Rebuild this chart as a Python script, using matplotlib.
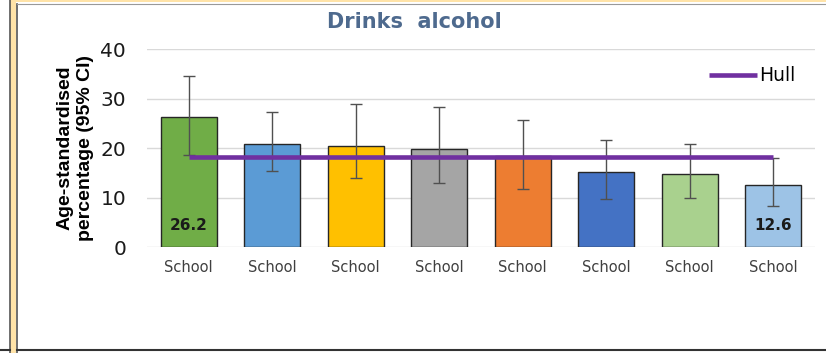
import matplotlib.pyplot as plt
from matplotlib.patches import Rectangle
from matplotlib.lines import Line2D
import numpy as np

# datos
schools = ["School"] * 8
values = [26.2, 20.8, 20.5, 19.8, 18.3, 15.1, 14.8, 12.6]
ci_low = [18.6, 15.4, 13.9, 13.0, 11.7, 9.7, 10.0, 8.3]
ci_high = [34.6, 27.3, 28.9, 28.3, 25.7, 21.6, 20.8, 18.0]
hull = 18.1
bar_colors = ['#70AD47', '#5B9BD5', '#FFC000', '#A5A5A5',
              '#ED7D31', '#4472C4', '#A9D18E', '#9DC3E6']

plt.rcParams['font.family'] = ['DejaVu Sans']

fig = plt.figure(figsize=(8.26, 3.53), dpi=100)

# marco de fondo (panel izquierdo y borde amarillo)
fig.patches.append(Rectangle((10 / 826, 0), 6 / 826, 1, transform=fig.transFigure,
                             facecolor='#FFE3A8', edgecolor='none', zorder=0))
fig.patches.append(Rectangle((16 / 826, 0.994), 1, 0.01, transform=fig.transFigure,
                             facecolor='#FFE3A8', edgecolor='none', zorder=0))
fig.lines.append(Line2D([9.5 / 826, 9.5 / 826], [0, 1], transform=fig.transFigure,
                        color='#555555', lw=1.2))
fig.lines.append(Line2D([16.5 / 826, 16.5 / 826], [0, 0.99], transform=fig.transFigure,
                        color='#555555', lw=1.2))
fig.lines.append(Line2D([16.5 / 826, 1], [0.99, 0.99], transform=fig.transFigure,
                        color='#999999', lw=0.8))
fig.lines.append(Line2D([16.5 / 826, 1], [3.5 / 353, 3.5 / 353], transform=fig.transFigure,
                        color='#333333', lw=1.5))
fig.lines.append(Line2D([0, 9.5 / 826], [3.5 / 353, 3.5 / 353], transform=fig.transFigure,
                        color='#333333', lw=1.5))

ax = fig.add_axes([147 / 826, 0.300, (815 - 147) / 826, 0.561])

x = np.arange(len(values))
yerr = [np.array(values) - np.array(ci_low), np.array(ci_high) - np.array(values)]
ax.bar(x, values, width=0.67, color=bar_colors, edgecolor='#262626', linewidth=1, zorder=2)
ax.errorbar(x, values, yerr=yerr, fmt='none', ecolor='#505050', elinewidth=1,
            capsize=4.5, capthick=1, zorder=3)
ax.plot([x[0], x[-1]], [hull, hull], color='#7030A0', lw=3.3, solid_capstyle='butt',
        label='Hull', zorder=4)

# etiquetas de valor en la primera y ultima barra
for i in [0, len(values) - 1]:
    ax.text(x[i], 4.4, f"{values[i]:.1f}", ha='center', va='center',
            fontsize=11, fontweight='bold', color='#1a1a1a', zorder=5)

ax.set_xlim(-0.5, len(values) - 0.5)
ax.set_ylim(0, 40)
ax.set_yticks([0, 10, 20, 30, 40])
ax.set_xticks(x)
ax.set_xticklabels(schools, fontsize=10.5, color='#404040')
ax.tick_params(axis='y', labelsize=14.5, length=0, pad=15, labelcolor='#1a1a1a')
ax.tick_params(axis='x', length=0, pad=9)
ax.grid(axis='y', color='#D9D9D9', lw=1, zorder=0)
ax.set_axisbelow(True)
for s in ax.spines.values():
    s.set_visible(False)

ax.set_ylabel("Age-standardised\npercentage (95% CI)", fontsize=14,
              fontweight='bold', linespacing=1.25, family='Liberation Sans')
ax.yaxis.set_label_coords(-0.08, 0.5)

fig.text(414 / 826, 1 - 22 / 353, "Drinks  alcohol", ha='center', va='center',
         fontsize=15, fontweight='bold', color='#4E6A8E')

ax.legend(loc='center right', bbox_to_anchor=(0.985, 0.864), frameon=False,
          fontsize=13.5, handlelength=2.6, handletextpad=0.1, borderpad=0)

plt.savefig('out.png', dpi=100)
